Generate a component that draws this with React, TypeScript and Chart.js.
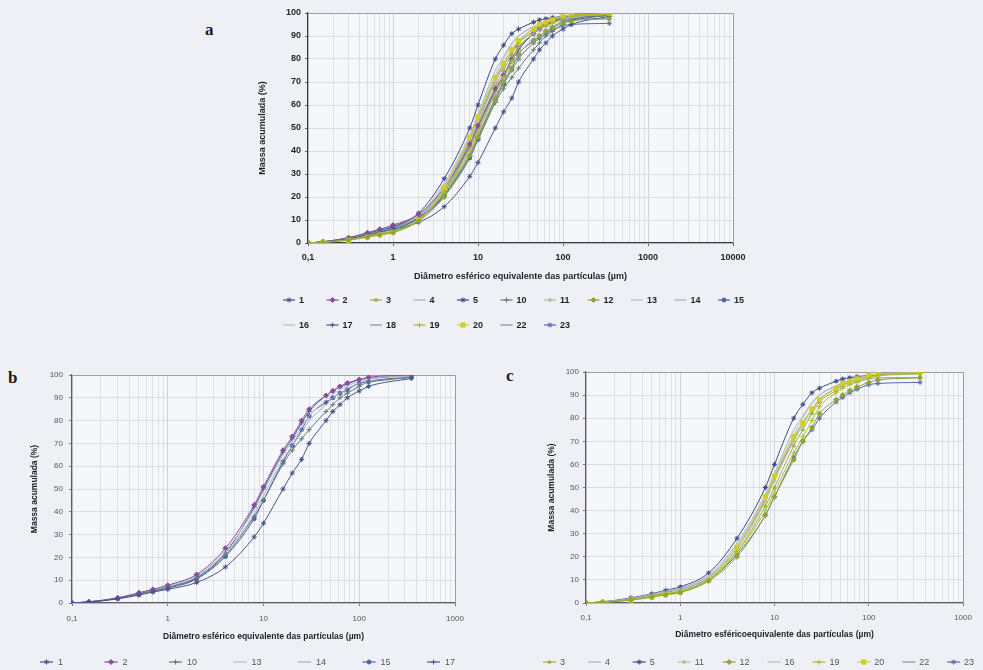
import React, { useEffect, useRef } from 'react';
import { Chart, registerables } from 'chart.js';
import { drawPoint } from 'chart.js/helpers';

Chart.register(...registerables);

const FONT = '"Liberation Sans", Arial, sans-serif';

// Equivalent spherical diameter (µm) of each measurement
const diameters = [0.1, 0.15, 0.3, 0.5, 0.7, 1, 2, 4, 8, 10, 16, 20, 25, 30, 45, 53, 63, 75, 100, 125, 350];

// Cumulative mass (%) per sample
const s1 = [0, 0.4, 1.8, 3.5, 4.8, 6.0, 9.0, 15.8, 29, 35, 50, 57, 63, 70, 80, 84, 87, 90, 93, 95, 98.5];
const s2 = [0, 0.5, 2.3, 4.5, 6.0, 7.8, 12.5, 24, 43, 51, 67, 73, 80, 85, 91, 93, 95, 96.5, 98, 99, 100];
const s3 = [0, 0.4, 1.5, 3.0, 4.0, 5.0, 10, 22, 42, 50, 68, 75, 82, 87, 92, 94, 95.5, 96.5, 98, 98.5, 99.5];
const s4 = [0, 0.5, 2.0, 3.8, 5.2, 6.5, 12, 26, 47, 56, 75, 81, 87, 90, 94, 95.5, 96.5, 97.5, 98.5, 99, 99.5];
const s5 = [0, 0.5, 2.2, 4.0, 5.5, 7.0, 13, 28, 50, 60, 80, 86, 91, 93, 96, 97, 97.5, 98, 98.5, 99, 99.5];
const s10 = [0, 0.5, 2.0, 4.0, 5.3, 6.8, 11, 21, 38, 45, 61, 67, 72, 76, 84, 87, 90, 92, 95, 97, 99];
const s11 = [0, 0.4, 1.6, 3.2, 4.2, 5.4, 10.5, 23, 44, 53, 70, 77, 83, 88, 93, 94.5, 95.5, 96.5, 98, 98.5, 99];
const s12 = [0, 0.3, 1.3, 2.6, 3.6, 4.6, 9.5, 20, 38, 46, 62, 70, 76, 82, 88, 90, 92, 93.5, 95.5, 96.5, 97.5];
const s13 = [0, 0.5, 2.2, 4.3, 5.8, 7.5, 12, 23, 41, 49, 65, 71, 77, 82, 89, 91.5, 93.5, 95, 97.5, 98.5, 99.8];
const s14 = [0, 0.5, 2.1, 4.1, 5.5, 7.0, 11.5, 22, 39, 47, 63, 69, 75, 80, 87, 90, 92, 94, 96.5, 98, 99.5];
const s15 = [0, 0.4, 2.0, 3.8, 5.2, 6.5, 10.5, 20.4, 37, 45, 62, 69, 76, 82, 88, 90, 92, 93.5, 96.4, 97, 99];
const s16 = [0, 0.5, 1.9, 3.6, 5.0, 6.3, 11.5, 25, 46, 55, 73, 80, 86, 90, 94, 95, 96, 97, 98.5, 99, 99.5];
const s17 = [0, 0.5, 2.0, 4.0, 5.5, 7.0, 11, 22, 42, 50, 66, 72, 79, 84, 91, 93, 94.8, 96, 98, 98.5, 100];
const s18 = [0, 0.5, 2.0, 3.8, 5.0, 6.4, 11, 23, 43, 52, 70, 77, 83, 87, 92, 94, 95, 96, 97.5, 98, 99];
const s19 = [0, 0.4, 1.5, 3.0, 4.0, 5.0, 10, 22, 40, 48, 65, 72, 79, 85, 91, 93, 94.5, 95.5, 97.5, 98.5, 99.5];
const s20 = [0, 0.3, 1.2, 2.5, 3.5, 4.5, 10, 24, 46, 55, 72, 78, 84, 88, 93, 95, 96, 97, 98.5, 99, 99.8];
const s22 = [0, 0.4, 1.7, 3.4, 4.6, 5.8, 11, 24, 45, 54, 71, 78, 84, 88, 93, 94.5, 95.5, 96, 97, 97.5, 97.5];
const s23 = [0, 0.4, 1.5, 3.0, 4.0, 5.0, 10, 21, 38, 46, 63, 70, 75, 80, 87, 89, 91, 92.5, 94.5, 95, 95.5];

const seriesValues: Record<string, number[]> = {
  '1': s1, '2': s2, '3': s3, '4': s4, '5': s5, '10': s10, '11': s11, '12': s12,
  '13': s13, '14': s14, '15': s15, '16': s16, '17': s17, '18': s18, '19': s19,
  '20': s20, '22': s22, '23': s23,
};

const samplesA = ['1', '2', '3', '4', '5', '10', '11', '12', '13', '14', '15', '16', '17', '18', '19', '20', '22', '23'];
const samplesB = ['1', '2', '10', '13', '14', '15', '17'];
const samplesC = ['3', '4', '5', '11', '12', '16', '19', '20', '22', '23'];

const yTickValues = [0, 10, 20, 30, 40, 50, 60, 70, 80, 90, 100];
const xDecadesA = [0.1, 1, 10, 100, 1000, 10000];
const xLabelsA = ['0,1', '1', '10', '100', '1000', '10000'];
const xDecadesBC = [0.1, 1, 10, 100, 1000];
const xLabelsBC = ['0,1', '1', '10', '100', '1000'];

const yTitle = 'Massa acumulada (%)';
const xTitleAB = 'Diâmetro esférico equivalente das partículas (µm)';
const xTitleC = 'Diâmetro esféricoequivalente das partículas (µm)';

type Sty = { color: string; point: any; r: number };
const sampleStyle: Record<string, Sty> = {
  '1': { color: '#44558f', point: 'star', r: 2.5 },
  '2': { color: '#8a4c9c', point: 'rectRot', r: 2.5 },
  '3': { color: '#9fae4a', point: 'triangle', r: 2 },
  '4': { color: '#9fb3cf', point: 'circle', r: 0 },
  '5': { color: '#3e4a86', point: 'star', r: 2.5 },
  '10': { color: '#5f7e6e', point: 'cross', r: 2.5 },
  '11': { color: '#b9bf9a', point: 'circle', r: 1.5 },
  '12': { color: '#8ea43a', point: 'rectRot', r: 2.5 },
  '13': { color: '#b7bccb', point: 'circle', r: 0 },
  '14': { color: '#a4acc4', point: 'circle', r: 0 },
  '15': { color: '#4d62a8', point: 'circle', r: 2 },
  '16': { color: '#b7c2b4', point: 'circle', r: 0 },
  '17': { color: '#475d8c', point: 'cross', r: 2.5 },
  '18': { color: '#7d97bf', point: 'circle', r: 0 },
  '19': { color: '#a9bb32', point: 'cross', r: 2.5 },
  '20': { color: '#d2cf22', point: 'rect', r: 3 },
  '22': { color: '#8e8f99', point: 'circle', r: 0 },
  '23': { color: '#5a6aa8', point: 'star', r: 2.5 },
};

type Spec = {
  samples: string[];
  decades: number[];
  labels: string[];
  xTitle: string;
  width: number;
  height: number;
  pad: { left: number; top: number; right: number; bottom: number };
  yW: number;
  xH: number;
  tickFont: any;
  tickColor: string;
  titleFont: any;
  axisColor: string;
  xTickPad: number;
  yTickPad: number;
  legend: { x: number; y: number; dx: number; dy: number; perRow: number; font: string; color: string; lineLen: number; gap: number };
};

const isDecade = (v: number) => Math.abs(Math.log10(v) - Math.round(Math.log10(v))) < 1e-6;

function gridTicks(decades: number[]) {
  const out: number[] = [];
  for (let i = 0; i < decades.length - 1; i++) {
    for (let k = 1; k <= 9; k++) out.push(Number((k * decades[i]).toPrecision(6)));
  }
  out.push(decades[decades.length - 1]);
  return out;
}

function makeChart(canvas: HTMLCanvasElement, spec: Spec) {
  const framePlugin = {
    id: 'frame',
    beforeDraw(chart: any) {
      const { ctx, chartArea: a } = chart;
      ctx.save();
      ctx.fillStyle = '#f6f7fa';
      ctx.fillRect(a.left, a.top, a.right - a.left, a.bottom - a.top);
      ctx.restore();
    },
    beforeDatasetsDraw(chart: any) {
      const { ctx, chartArea: a } = chart;
      ctx.save();
      ctx.strokeStyle = '#9a9ca6';
      ctx.lineWidth = 1;
      ctx.beginPath();
      ctx.moveTo(a.left, a.top + 0.5);
      ctx.lineTo(a.right + 0.5, a.top + 0.5);
      ctx.lineTo(a.right + 0.5, a.bottom);
      ctx.stroke();
      ctx.restore();
    },
  };
  const L = spec.legend;
  const legendPlugin = {
    id: 'customLegend',
    afterDraw(chart: any) {
      const { ctx } = chart;
      chart.data.datasets.forEach((ds: any, i: number) => {
        const row = Math.floor(i / L.perRow);
        const col = i % L.perRow;
        const x = L.x + col * L.dx;
        const y = L.y + row * L.dy;
        ctx.save();
        ctx.strokeStyle = ds.borderColor;
        ctx.fillStyle = ds.backgroundColor;
        ctx.lineWidth = 1.2;
        ctx.beginPath();
        ctx.moveTo(x, y);
        ctx.lineTo(x + L.lineLen, y);
        ctx.stroke();
        if (ds.pointRadius > 0) {
          ctx.lineWidth = 1;
          drawPoint(ctx, { pointStyle: ds.pointStyle, radius: ds.pointRadius, borderWidth: 1, rotation: 0 } as any, x + L.lineLen / 2, y);
        }
        ctx.fillStyle = L.color;
        ctx.font = L.font;
        ctx.textBaseline = 'middle';
        ctx.textAlign = 'left';
        ctx.fillText(ds.label, x + L.lineLen + L.gap, y + 0.5);
        ctx.restore();
      });
    },
  };

  const datasets = spec.samples.map((s) => {
    const st = sampleStyle[s];
    const vals = seriesValues[s];
    return {
      label: s,
      data: diameters.map((d, i) => ({ x: d, y: vals[i] })),
      borderColor: st.color,
      backgroundColor: st.color,
      borderWidth: 1,
      pointRadius: st.r,
      pointStyle: st.point,
      pointBorderWidth: 1,
      cubicInterpolationMode: 'monotone' as const,
      tension: 0.4,
      fill: false,
      order: s === '20' || s === '19' || s === '12' ? 0 : 1,
    };
  });

  const ticksGrid = gridTicks(spec.decades);

  return new Chart(canvas, {
    type: 'line',
    data: { datasets },
    plugins: [framePlugin, legendPlugin],
    options: {
      animation: false,
      responsive: false,
      maintainAspectRatio: false,
      layout: { padding: spec.pad },
      plugins: { legend: { display: false }, tooltip: { enabled: false } },
      scales: {
        x: {
          type: 'logarithmic',
          min: spec.decades[0],
          max: spec.decades[spec.decades.length - 1],
          afterBuildTicks: (scale: any) => {
            scale.ticks = ticksGrid.map((v) => ({ value: v }));
          },
          afterFit: (scale: any) => {
            scale.height = spec.xH;
            scale.paddingLeft = 0;
            scale.paddingRight = 0;
          },
          ticks: {
            autoSkip: false,
            maxRotation: 0,
            minRotation: 0,
            padding: spec.xTickPad,
            font: spec.tickFont,
            color: spec.tickColor,
            callback: (value: any) => {
              const v = Number(value);
              const i = spec.decades.findIndex((d) => Math.abs(d - v) / d < 1e-6);
              return i >= 0 ? spec.labels[i] : '';
            },
          },
          grid: {
            color: (c: any) => (c.tick && isDecade(c.tick.value) ? '#c6c9d2' : '#d8dae1'),
            lineWidth: 0.8,
            drawTicks: true,
            tickLength: 3,
            tickColor: (c: any) => (c.tick && isDecade(c.tick.value) ? spec.axisColor : 'rgba(0,0,0,0)'),
          },
          border: { display: true, color: spec.axisColor, width: 1.2 },
          title: {
            display: true,
            text: spec.xTitle,
            font: spec.titleFont,
            color: '#1e1e24',
            padding: { top: 0, bottom: 0 },
          },
        },
        y: {
          type: 'linear',
          min: 0,
          max: 100,
          afterBuildTicks: (scale: any) => {
            scale.ticks = yTickValues.map((v) => ({ value: v }));
          },
          afterFit: (scale: any) => {
            scale.width = spec.yW;
            scale.paddingTop = 0;
            scale.paddingBottom = 0;
          },
          ticks: {
            padding: spec.yTickPad,
            font: spec.tickFont,
            color: spec.tickColor,
            callback: (v: any) => String(v),
          },
          grid: {
            color: '#d3d5dd',
            lineWidth: 0.8,
            drawTicks: true,
            tickLength: 3,
            tickColor: spec.axisColor,
          },
          border: { display: true, color: spec.axisColor, width: 1.2 },
          title: {
            display: true,
            text: yTitle,
            font: spec.titleFont,
            color: '#1e1e24',
            padding: { top: 0, bottom: 0 },
          },
        },
      },
    } as any,
  });
}

const specA: Spec = {
  samples: samplesA,
  decades: xDecadesA,
  labels: xLabelsA,
  xTitle: xTitleAB,
  width: 560,
  height: 345,
  pad: { left: 57, top: 13, right: 27, bottom: 63 },
  yW: 51,
  xH: 39,
  tickFont: { family: FONT, size: 9, weight: 'bold' },
  tickColor: '#1f1f26',
  titleFont: { family: FONT, size: 9, weight: 'bold', lineHeight: 1.2 },
  axisColor: '#3a3a44',
  xTickPad: 6,
  yTickPad: 4,
  legend: { x: 83, y: 300, dx: 43.5, dy: 25, perRow: 11, font: `bold 9px ${FONT}`, color: '#1f1f26', lineLen: 12, gap: 4 },
};

const specB: Spec = {
  samples: samplesB,
  decades: xDecadesBC,
  labels: xLabelsBC,
  xTitle: xTitleAB,
  width: 480,
  height: 310,
  pad: { left: 30, top: 15, right: 25, bottom: 28 },
  yW: 42,
  xH: 39,
  tickFont: { family: FONT, size: 8 },
  tickColor: '#55565e',
  titleFont: { family: FONT, size: 8.5, weight: 'bold', lineHeight: 1.2 },
  axisColor: '#5a5b64',
  xTickPad: 8,
  yTickPad: 6,
  legend: { x: 40, y: 302, dx: 64.5, dy: 25, perRow: 7, font: `9px ${FONT}`, color: '#55565e', lineLen: 13, gap: 5 },
};

const specC: Spec = {
  samples: samplesC,
  decades: xDecadesBC,
  labels: xLabelsBC,
  xTitle: xTitleC,
  width: 503,
  height: 310,
  pad: { left: 67, top: 12, right: 20, bottom: 30 },
  yW: 39,
  xH: 37,
  tickFont: { family: FONT, size: 8 },
  tickColor: '#55565e',
  titleFont: { family: FONT, size: 8.5, weight: 'bold', lineHeight: 1.2 },
  axisColor: '#5a5b64',
  xTickPad: 7,
  yTickPad: 4,
  legend: { x: 63, y: 302, dx: 44.9, dy: 25, perRow: 10, font: `9px ${FONT}`, color: '#55565e', lineLen: 13, gap: 4 },
};

const panelLetter: React.CSSProperties = {
  position: 'absolute',
  fontFamily: '"Liberation Serif", "DejaVu Serif", serif',
  fontWeight: 'bold',
  fontSize: 17,
  color: '#1a1a22',
  lineHeight: 1,
};

export default function App() {
  const refA = useRef<HTMLCanvasElement>(null);
  const refB = useRef<HTMLCanvasElement>(null);
  const refC = useRef<HTMLCanvasElement>(null);

  useEffect(() => {
    const charts: Chart[] = [];
    if (refA.current) charts.push(makeChart(refA.current, specA));
    if (refB.current) charts.push(makeChart(refB.current, specB));
    if (refC.current) charts.push(makeChart(refC.current, specC));
    return () => charts.forEach((c) => c.destroy());
  }, []);

  return (
    <div style={{ position: 'fixed', left: 0, top: 0, width: 983, height: 670, background: '#eff0f5', overflow: 'hidden' }}>
      <div style={{ ...panelLetter, left: 205, top: 21 }}>a</div>
      <div style={{ ...panelLetter, left: 8, top: 369 }}>b</div>
      <div style={{ ...panelLetter, left: 506, top: 367 }}>c</div>
      <canvas ref={refA} width={specA.width} height={specA.height}
        style={{ position: 'absolute', left: 200, top: 0, width: specA.width, height: specA.height }} />
      <canvas ref={refB} width={specB.width} height={specB.height}
        style={{ position: 'absolute', left: 0, top: 360, width: specB.width, height: specB.height }} />
      <canvas ref={refC} width={specC.width} height={specC.height}
        style={{ position: 'absolute', left: 480, top: 360, width: specC.width, height: specC.height }} />
    </div>
  );
}
